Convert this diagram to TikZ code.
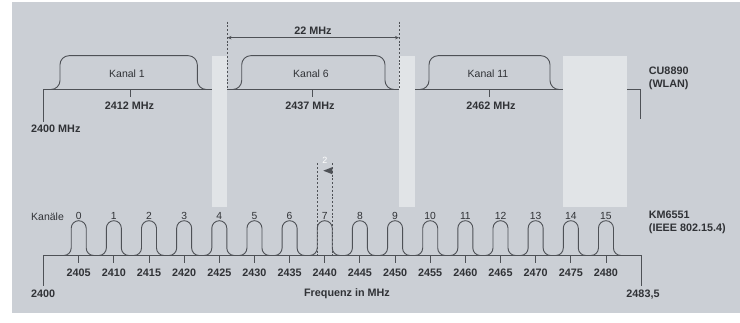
\documentclass[tikz,border=0pt]{standalone}
\usepackage{fontspec}
\setmainfont{Liberation Sans}
\usetikzlibrary{arrows.meta}
\definecolor{bgc}{RGB}{203,207,213}
\definecolor{barc}{RGB}{225,228,231}
\definecolor{lnc}{RGB}{78,81,86}
\definecolor{txc}{RGB}{48,50,54}
\begin{document}
\begin{tikzpicture}[x=1pt,y=-1pt,
  lbl/.style={text=txc, inner sep=0pt, font=\fontsize{10.5}{12.5}\selectfont},
  blbl/.style={text=txc, inner sep=0pt, font=\fontsize{10.8}{12.8}\selectfont\bfseries},
  axisline/.style={draw=lnc, line width=0.9pt},
  humpline/.style={draw=lnc, line width=0.9pt, rounded corners=9pt},
  bumpline/.style={draw=lnc, line width=0.9pt, rounded corners=7.5pt},
  dashline/.style={draw=lnc, line width=0.8pt, dash pattern=on 2pt off 1.8pt},
  lightbar/.style={fill=barc, draw=none}]
\useasboundingbox (0,0) rectangle (740,323);
\fill[bgc] (12,2) rectangle (740,313);

% ---------------- WLAN (top) ----------------
\draw[axisline] (43.3,121.7) -- (43.3,89.5) -- (640.7,89.5) -- (640.7,119);
\draw[humpline] (46,89.5) -- (60,89.5) -- (60,55.7) -- (197.3,55.7) -- (197.3,89.5) -- (211,89.5);
\draw[humpline] (228,89.5) -- (241.7,89.5) -- (241.7,55.7) -- (385,55.7) -- (385,89.5) -- (399,89.5);
\draw[humpline] (415,89.5) -- (429,89.5) -- (429,55.7) -- (550,55.7) -- (550,89.5) -- (563,89.5);
\foreach \x/\n in {130/a, 312.3/b, 489/c}
  \draw[axisline] (\x,89.5) -- (\x,97.5);

\fill[lightbar] (211.7,55.7) rectangle (227.3,206.7);
\fill[lightbar] (399.3,55.7) rectangle (414.7,206.7);
\fill[lightbar] (563.3,55.7) rectangle (626.7,206.7);

\coordinate (dlt) at (227.5,21.7);
\coordinate (dlb) at (227.5,89.5);
\coordinate (drt) at (399,21.7);
\coordinate (drb) at (399,89.5);
\coordinate (al) at (227.5,37.7);
\coordinate (ar) at (399,37.7);
\draw[dashline] (dlt) -- (dlb);
\draw[dashline] (drt) -- (drb);
\draw[draw=lnc, line width=0.9pt, {Stealth[length=4pt,width=3.5pt]}-{Stealth[length=4pt,width=3.5pt]}] (al) -- (ar);
\node[blbl] (mhz22) at (313,31) {22 MHz};

\node[lbl] (k1) at (127,74) {Kanal 1};
\node[lbl] (k6) at (311,74) {Kanal 6};
\node[lbl] (k11) at (488,74) {Kanal 11};
\node[blbl] (f2412) at (129.5,106) {2412 MHz};
\node[blbl] (f2437) at (310,106) {2437 MHz};
\node[blbl] (f2462) at (491,106) {2462 MHz};
\node[blbl, anchor=west] (f2400top) at (31,128.3) {2400 MHz};
\node[blbl, anchor=north west, align=left, font=\fontsize{10.8}{12.8}\selectfont\bfseries] (cu) at (648.7,66.5) {CU8890\\(WLAN)};

% ---------------- IEEE 802.15.4 (bottom) ----------------
\draw[axisline] (43.5,285.7) -- (43.5,255.7) -- (641.7,255.7) -- (641.7,285.7);
\draw[bumpline] (60,255.5)
  foreach \k in {0,...,15} {
    -- ({78.7+35.15*\k-7.5},255.5) -- ({78.7+35.15*\k-7.5},220.7)
    -- ({78.7+35.15*\k+7.5},220.7) -- ({78.7+35.15*\k+7.5},255.5)
  } -- (628,255.5);
\foreach \k [evaluate=\k as \f using int(2405+5*\k)] in {0,...,15} {
  \draw[axisline] ({78.7+35.15*\k},255.7) -- ({78.7+35.15*\k},263.3);
  \node[blbl] (t\k) at ({78.7+35.15*\k},272.3) {\f};
  \node[lbl, font=\fontsize{10.3}{12}\selectfont] (c\k) at ({78.7+35.15*\k},216) {\k};
}
\node[lbl, anchor=west] (kanaele) at (31,216.3) {Kanäle};
\node[blbl, anchor=north west, align=left, font=\fontsize{10.8}{12.8}\selectfont\bfseries] (km) at (648.7,210.5) {KM6551\\(IEEE 802.15.4)};
\node[blbl, anchor=west] (f2400) at (31,294.2) {2400};
\node[blbl] (fq) at (347,294.2) {Frequenz in MHz};
\node[blbl] (f2483) at (643,294.2) {2483,5};

% marker at channel 7
\coordinate (mlt) at (317.25,163.3);
\coordinate (mlb) at (317.25,255);
\coordinate (mrt) at (332.25,163.3);
\coordinate (mrb) at (332.25,255);
\draw[dashline] (mlt) -- (mlb);
\draw[dashline] (mrt) -- (mrb);
\coordinate (tipm) at (323.3,170.7);
\fill[lnc] (tipm) -- (332.25,167.2) -- (332.25,174.2) -- cycle;
\node[inner sep=0pt, text=white, font=\fontsize{9}{10}\selectfont] (two) at (325,160.5) {2};
\end{tikzpicture}
\end{document}
